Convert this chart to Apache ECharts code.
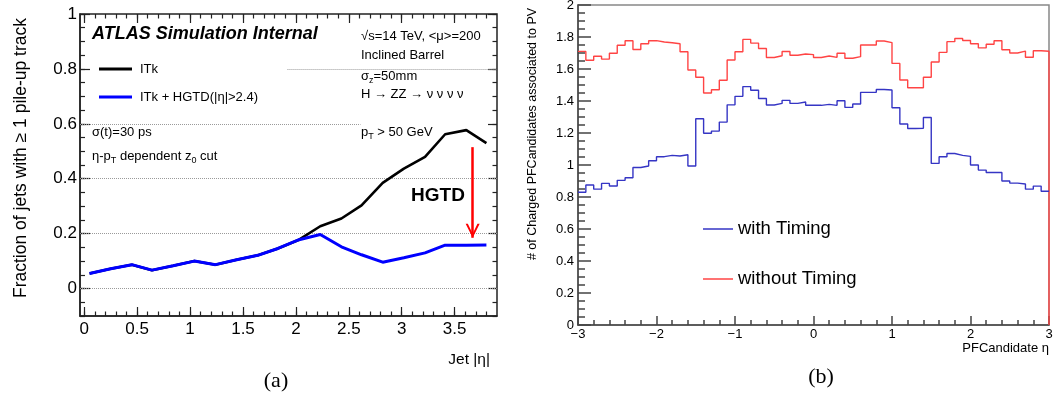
<!DOCTYPE html>
<html>
<head>
<meta charset="utf-8">
<script src="https://cdn.jsdelivr.net/npm/echarts@6/dist/echarts.min.js"></script>
<style>
  html, body { margin: 0; padding: 0; background: #fff; }
  #chart { width: 1053px; height: 396px; }
</style>
</head>
<body>
<div id="chart"></div>
<script>
// ---- panel (a): fraction of jets with >= 1 pile-up track vs jet |eta|
const jetEta = [0.05, 0.25, 0.45, 0.64, 0.84, 1.04, 1.24, 1.44, 1.64, 1.83,
                2.03, 2.23, 2.43, 2.62, 2.82, 3.02, 3.22, 3.41, 3.61, 3.80]
const fracITk = [0.055, 0.072, 0.087, 0.067, 0.083, 0.100, 0.087, 0.105, 0.121, 0.146,
                 0.178, 0.227, 0.255, 0.303, 0.385, 0.437, 0.480, 0.562, 0.577, 0.530]
const fracHGTD = [0.055, 0.072, 0.087, 0.067, 0.083, 0.100, 0.087, 0.105, 0.121, 0.146,
                  0.178, 0.197, 0.152, 0.123, 0.096, 0.112, 0.130, 0.158, 0.158, 0.159]
const jetEtaTicks = [0, 0.5, 1, 1.5, 2, 2.5, 3, 3.5]
const fracTicks = [0, 0.2, 0.4, 0.6, 0.8, 1]
// dotted guide lines: [value, from eta, to eta]
const fracGrid = [[0, -0.04, 3.9], [0.2, -0.04, 3.9], [0.4, -0.04, 3.9], [0.6, -0.04, 2.61], [0.8, 1.92, 3.9]]
// HGTD arrow: [eta, from, to]
const hgtdArrow = [3.67, 0.515, 0.185]

// ---- panel (b): charged PF candidates associated to PV, 60 bins in eta [-3, 3]
const pfEtaMin = -3
const pfBinWidth = 0.1
const withTiming = [
  0.830, 0.875, 0.849, 0.885, 0.869, 0.904, 0.920, 0.984, 0.994, 1.027,
  1.052, 1.060, 1.056, 1.064, 0.994, 1.289, 1.198, 1.212, 1.268, 1.376,
  1.429, 1.490, 1.467, 1.416, 1.375, 1.385, 1.404, 1.385, 1.394, 1.373,
  1.373, 1.379, 1.373, 1.402, 1.360, 1.381, 1.454, 1.454, 1.472, 1.469,
  1.358, 1.256, 1.228, 1.229, 1.297, 1.010, 1.052, 1.072, 1.060, 1.054,
  1.000, 0.968, 0.953, 0.953, 0.900, 0.887, 0.881, 0.849, 0.868, 0.836]
const withoutTiming = [
  1.710, 1.655, 1.680, 1.662, 1.698, 1.748, 1.777, 1.722, 1.758, 1.777,
  1.769, 1.764, 1.758, 1.708, 1.594, 1.548, 1.450, 1.470, 1.530, 1.656,
  1.708, 1.785, 1.762, 1.728, 1.672, 1.683, 1.709, 1.686, 1.694, 1.690,
  1.672, 1.681, 1.673, 1.698, 1.667, 1.677, 1.750, 1.750, 1.775, 1.765,
  1.635, 1.531, 1.483, 1.483, 1.548, 1.644, 1.704, 1.771, 1.791, 1.778,
  1.758, 1.732, 1.755, 1.777, 1.720, 1.700, 1.712, 1.673, 1.714, 1.711]
const pfEtaLabels = ['\u22123', '\u22122', '\u22121', '0', '1', '2', '3']

const FONT = '"Liberation Sans", Arial, Helvetica, sans-serif'
const SERIF = '"Liberation Serif", "Times New Roman", serif'
const frameA = '#222'
const frameB = '#444'

// minor tick positions for panel (a)
const jetEtaMinor = []
for (let i = 0; i <= 38; i++) jetEtaMinor.push(+(i * 0.1).toFixed(2))
const fracMinor = []
for (let i = -2; i <= 20; i++) fracMinor.push(+(i * 0.05).toFixed(2))

// histogram as step line: lower edges, then close the last bin
function histPoints(vals, dropToZero) {
  const pts = vals.map((v, i) => [+(pfEtaMin + i * pfBinWidth).toFixed(2), v])
  pts.push([+(pfEtaMin + vals.length * pfBinWidth).toFixed(2), vals[vals.length - 1]])
  if (dropToZero) pts.push([pts[pts.length - 1][0], 0])
  return pts
}

const chevron = 'path://M7,0 L14,14 L11.8,14 L7,4 L2.2,14 L0,14 Z'

function axA(dim, position, values, len, withLabels) {
  const ax = {
    type: 'value', gridIndex: 0, position,
    min: dim === 'x' ? -0.04 : -0.1, max: dim === 'x' ? 3.9 : 1,
    axisLine: { show: withLabels, onZero: false, lineStyle: { color: frameA, width: 1.5 } },
    axisTick: { show: true, inside: true, length: len, customValues: values, lineStyle: { color: frameA, width: 1.2 } },
    axisLabel: { show: false },
    splitLine: { show: false },
  }
  if (withLabels) {
    ax.axisLabel = {
      show: true, customValues: dim === 'x' ? jetEtaTicks : fracTicks,
      margin: dim === 'x' ? 5 : 3, fontSize: 17, color: '#000', fontFamily: FONT,
    }
  }
  return ax
}

function txt(x, y, text, extra) {
  return {
    type: 'text', x, y, silent: true,
    style: Object.assign({ text, fill: '#000', fontFamily: FONT, fontSize: 13, align: 'left', verticalAlign: 'middle' }, extra || {}),
  }
}
const subRich = {
  n: { fontSize: 13, fontFamily: FONT, lineHeight: 18 },
  s: { fontSize: 9, fontFamily: FONT, lineHeight: 10, verticalAlign: 'bottom' },
}

const chart = echarts.init(document.getElementById('chart'), null, { renderer: 'canvas' })

chart.setOption({
  animation: false,
  backgroundColor: '#fff',
  textStyle: { fontFamily: FONT },
  grid: [
    { left: 80, top: 14, width: 417, height: 302, show: true, borderColor: frameA, borderWidth: 1.5, outerBoundsMode: 'none' },
    { left: 578, top: 5, width: 471, height: 320, show: true, borderColor: '#888', borderWidth: 1.5, outerBoundsMode: 'none' },
  ],
  xAxis: [
    axA('x', 'bottom', jetEtaTicks, 9, true),
    axA('x', 'bottom', jetEtaMinor, 4.5, false),
    axA('x', 'top', jetEtaTicks, 9, false),
    axA('x', 'top', jetEtaMinor, 4.5, false),
    {
      type: 'value', gridIndex: 1, position: 'bottom', min: -3, max: 3, interval: 1,
      axisLine: { onZero: false, lineStyle: { color: frameB, width: 1.5 } },
      axisTick: { inside: true, length: 9, lineStyle: { color: frameB, width: 1.5 } },
      minorTick: { show: true, splitNumber: 5, length: 5, lineStyle: { color: frameB, width: 1.5 } },
      axisLabel: { margin: 3, fontSize: 13, color: '#000', fontFamily: FONT, formatter: v => pfEtaLabels[Math.round(v) + 3] },
      splitLine: { show: false },
    },
  ],
  yAxis: [
    axA('y', 'left', fracTicks, 10, true),
    axA('y', 'left', fracMinor, 5, false),
    axA('y', 'right', fracTicks, 9, false),
    axA('y', 'right', fracMinor, 4.5, false),
    {
      type: 'value', gridIndex: 1, position: 'left', min: 0, max: 2, interval: 0.2,
      axisLine: { onZero: false, lineStyle: { color: frameB, width: 1.5 } },
      axisTick: { inside: true, length: 13, lineStyle: { color: frameB, width: 1.5 } },
      minorTick: { show: true, splitNumber: 4, length: 7, lineStyle: { color: frameB, width: 1.5 } },
      axisLabel: { margin: 4, fontSize: 13, color: '#000', fontFamily: FONT },
      splitLine: { show: false },
    },
  ],
  legend: [
    {
      data: ['ITk', 'ITk + HGTD(|\u03b7|>2.4)'], orient: 'vertical', left: 99, top: 61,
      icon: 'rect', itemWidth: 33, itemHeight: 3, itemGap: 12, padding: 0, selectedMode: false,
      textStyle: { fontSize: 13, lineHeight: 16, color: '#000', fontFamily: FONT, padding: [0, 0, 0, 3] },
    },
    {
      data: ['with Timing', 'without Timing'], orient: 'vertical', left: 703, top: 218,
      icon: 'rect', itemWidth: 30, itemHeight: 1.5, itemGap: 28, padding: 0, selectedMode: false,
      textStyle: { fontSize: 18.5, lineHeight: 22, color: '#000', fontFamily: FONT },
    },
  ],
  series: [
    {
      name: 'ITk', type: 'line', xAxisIndex: 0, yAxisIndex: 0,
      data: jetEta.map((e, i) => [e, fracITk[i]]),
      symbol: 'none', color: '#000', lineStyle: { color: '#000', width: 2.6 },
      markLine: {
        silent: true, z: 1, symbol: 'none', label: { show: false },
        lineStyle: { color: '#9a9a9a', type: 'dotted', width: 1 },
        data: fracGrid.map(g => [{ coord: [g[1], g[0]] }, { coord: [g[2], g[0]] }]),
      },
    },
    {
      name: 'ITk + HGTD(|\u03b7|>2.4)', type: 'line', xAxisIndex: 0, yAxisIndex: 0,
      data: jetEta.map((e, i) => [e, fracHGTD[i]]),
      symbol: 'none', color: '#0000ff', lineStyle: { color: '#0000ff', width: 3 },
      markLine: {
        silent: true, symbol: ['none', chevron], symbolSize: [14, 14], symbolOffset: [[0, 0], [0, 7]],
        label: { show: false }, itemStyle: { color: '#ff0000' },
        lineStyle: { color: '#ff0000', width: 2.5, type: 'solid' },
        data: [[{ coord: [hgtdArrow[0], hgtdArrow[1]] }, { coord: [hgtdArrow[0], hgtdArrow[2]] }]],
      },
    },
    {
      name: 'without Timing', type: 'line', xAxisIndex: 4, yAxisIndex: 4, step: 'end',
      data: histPoints(withoutTiming, true),
      symbol: 'none', color: '#ff4444', lineStyle: { color: '#ff4444', width: 1.4 },
    },
    {
      name: 'with Timing', type: 'line', xAxisIndex: 4, yAxisIndex: 4, step: 'end',
      data: histPoints(withTiming, false),
      symbol: 'none', color: '#3535c4', lineStyle: { color: '#3535c4', width: 1.4 },
    },
  ],
  graphic: [
    txt(92, 34, 'ATLAS Simulation Internal', { fontSize: 18, fontWeight: 'bold', fontStyle: 'italic' }),
    txt(92, 132, '\u03c3(t)=30 ps'),
    txt(92, 156, '{n|\u03b7-p}{s|T}{n| dependent z}{s|0}{n| cut}', { rich: subRich }),
    txt(361, 36, '\u221as=14 TeV, <\u03bc>=200'),
    txt(361, 55, 'Inclined Barrel'),
    txt(361, 76, '{n|\u03c3}{s|z}{n|=50mm}', { rich: subRich }),
    txt(361, 94, 'H \u2192 ZZ \u2192 \u03bd \u03bd \u03bd \u03bd'),
    txt(361, 132, '{n|p}{s|T}{n| > 50 GeV}', { rich: subRich }),
    txt(438, 196, 'HGTD', { fontSize: 19, fontWeight: 'bold', align: 'center' }),
    txt(490, 360, 'Jet |\u03b7|', { fontSize: 15.5, align: 'right' }),
    txt(276, 381, '(a)', { fontSize: 22, fontFamily: SERIF, align: 'center' }),
    Object.assign(txt(21, 158, 'Fraction of jets with \u2265 1 pile-up track', { fontSize: 17.5, align: 'center' }), { rotation: Math.PI / 2 }),
    Object.assign(txt(533, 134, '# of Charged PFCandidates associated to PV', { fontSize: 12.5, align: 'center' }), { rotation: Math.PI / 2 }),
    txt(1049, 348, 'PFCandidate \u03b7', { fontSize: 13, align: 'right' }),
    txt(821, 377, '(b)', { fontSize: 22, fontFamily: SERIF, align: 'center' }),
  ],
})

window.addEventListener('resize', () => chart.resize())
</script>
</body>
</html>
